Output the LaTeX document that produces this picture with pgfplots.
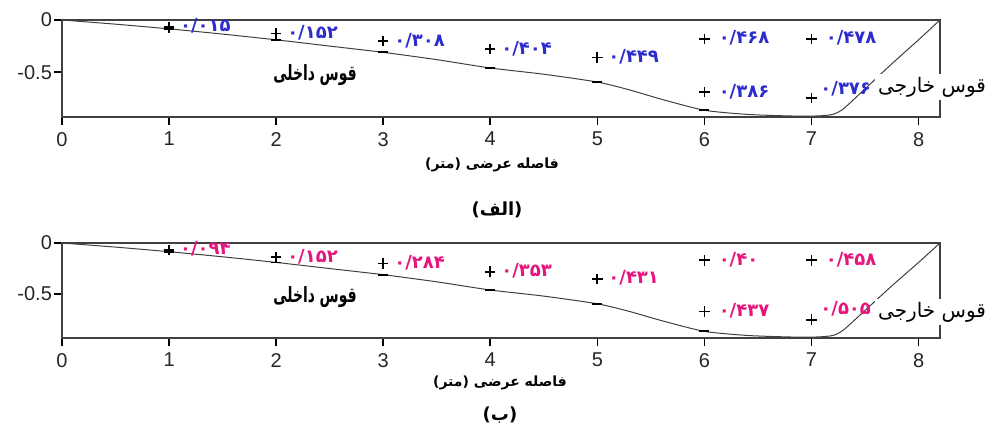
\documentclass[border=0pt]{standalone}
\usepackage{pgfplots}
\pgfplotsset{compat=1.18}
\usepackage{pgfplotstable}
\usepackage{fontspec}
\setmainfont{Liberation Sans}
\newfontfamily\arabicfont[Script=Arabic]{DejaVu Sans}
\TeXXeTstate=1
\definecolor{numblue}{RGB}{45,45,205}
\definecolor{numpink}{RGB}{230,20,125}

\pgfplotstableread{
x y
0 0
0.5 -0.04
1 -0.085
1.5 -0.135
2 -0.19
2.5 -0.25
3 -0.31
3.5 -0.38
4 -0.46
4.5 -0.52
5 -0.595
5.3 -0.67
5.6 -0.76
6 -0.865
6.4 -0.905
6.8 -0.92
7.05 -0.92
7.2 -0.905
7.3 -0.85
7.5 -0.66
7.75 -0.42
8.0 -0.19
8.2 0
}\curve

\pgfplotstableread{
x y
1 -0.085
2 -0.19
3 -0.31
4 -0.46
5 -0.595
6 -0.865
}\dashes

\pgfplotstableread{
x y
1 -0.07
2 -0.13
3 -0.20
4 -0.28
5 -0.36
6 -0.18
6 -0.69
7 -0.18
7 -0.75
}\marksA

\pgfplotstableread{
x y
1 -0.07
2 -0.14
3 -0.20
4 -0.28
5 -0.35
6 -0.17
6 -0.67
7 -0.17
7 -0.75
}\marksB

\pgfplotsset{panel/.style={
  scale only axis, width=439pt,
  xmin=0, xmax=8.2, ymin=-0.93, ymax=0,
  xtick={0,1,2,3,4,5,6,7,8}, xticklabels={0,1,2,3,4,5,6,7,8},
  ytick={-0.5,0}, yticklabels={-0.5,0},
  tick align=outside, xtick pos=bottom, ytick pos=left,
  major tick length=4pt,
  axis line style={black!75, line width=0.8pt},
  tick style={black, line width=0.8pt},
  ticklabel style={font=\fontsize{10}{11}\selectfont, text=black!85},
  xticklabel style={yshift=0pt},
  yticklabel style={xshift=2.5pt},
  clip=false,
}}
\tikzset{
  lab/.style={anchor=west, inner sep=0pt, font=\arabicfont\bfseries\fontsize{9}{10}\selectfont},
  inner/.style={xscale=0.66, transform shape, font=\arabicfont\bfseries\fontsize{10.5}{11}\selectfont},
}

\begin{document}
\begin{tikzpicture}
\useasboundingbox (0,0) rectangle (493pt,-217.5pt);

% ---- top panel (a)
\begin{axis}[panel, height=48.5pt, at={(31pt,-58.5pt)}, anchor=south west]
\addplot[black!75, line width=0.5pt, smooth, tension=0.4] table[x=x,y=y]{\curve};
\addplot[only marks, mark=-, mark size=2.5pt, black, line width=0.9pt] table[x=x,y=y]{\dashes};
\addplot[only marks, mark=+, mark size=2.6pt, black, line width=0.9pt] table[x=x,y=y]{\marksA};
\node[lab, text=numblue] at (axis cs:1.1,-0.06) {۰/۰۱۵};
\node[lab, text=numblue] at (axis cs:2.1,-0.125) {۰/۱۵۲};
\node[lab, text=numblue] at (axis cs:3.1,-0.195) {۰/۳۰۸};
\node[lab, text=numblue] at (axis cs:4.1,-0.275) {۰/۴۰۴};
\node[lab, text=numblue] at (axis cs:5.1,-0.355) {۰/۴۴۹};
\node[lab, text=numblue] at (axis cs:6.13,-0.175) {۰/۴۶۸};
\node[lab, text=numblue] at (axis cs:7.13,-0.175) {۰/۴۷۸};
\node[lab, text=numblue] at (axis cs:6.13,-0.685) {۰/۳۸۶};
\node[lab, text=numblue] at (axis cs:7.08,-0.66) {۰/۳۷۶};
\end{axis}

% ---- bottom panel (b)
\begin{axis}[panel, height=47.5pt, at={(31pt,-169pt)}, anchor=south west]
\addplot[black!75, line width=0.5pt, smooth, tension=0.4] table[x=x,y=y]{\curve};
\addplot[only marks, mark=-, mark size=2.5pt, black, line width=0.9pt] table[x=x,y=y]{\dashes};
\addplot[only marks, mark=+, mark size=2.6pt, black, line width=0.9pt] table[x=x,y=y]{\marksB};
\node[lab, text=numpink] at (axis cs:1.1,-0.06) {۰/۰۹۴};
\node[lab, text=numpink] at (axis cs:2.1,-0.13) {۰/۱۵۲};
\node[lab, text=numpink] at (axis cs:3.1,-0.19) {۰/۲۸۴};
\node[lab, text=numpink] at (axis cs:4.1,-0.275) {۰/۳۵۳};
\node[lab, text=numpink] at (axis cs:5.1,-0.345) {۰/۴۳۱};
\node[lab, text=numpink] at (axis cs:6.13,-0.165) {۰/۴۰};
\node[lab, text=numpink] at (axis cs:7.13,-0.165) {۰/۴۵۸};
\node[lab, text=numpink] at (axis cs:6.13,-0.665) {۰/۴۳۷};
\node[lab, text=numpink] at (axis cs:7.08,-0.64) {۰/۵۰۵};
\end{axis}

% ---- text labels
\node[inner] at (157.5pt,-37.5pt) {\beginR قوس داخلی\endR};
\node[inner] at (157.5pt,-148.5pt) {\beginR قوس داخلی\endR};
\node[fill=white, inner sep=1.5pt, font=\arabicfont\fontsize{10}{11}\selectfont] at (466pt,-43.5pt) {\beginR قوس خارجی\endR};
\node[fill=white, inner sep=1.5pt, font=\arabicfont\fontsize{10}{11}\selectfont] at (466pt,-156pt) {\beginR قوس خارجی\endR};
\node[font=\arabicfont\bfseries\fontsize{7}{8}\selectfont] at (246pt,-82.5pt) {\beginR فاصله عرضی (متر)\endR};
\node[font=\arabicfont\bfseries\fontsize{7}{8}\selectfont] at (250pt,-191.5pt) {\beginR فاصله عرضی (متر)\endR};
\node[font=\arabicfont\bfseries\fontsize{9}{10}\selectfont] at (248.5pt,-105pt) {\beginR(الف)\endR};
\node[font=\arabicfont\bfseries\fontsize{9}{10}\selectfont] at (250pt,-207.5pt) {\beginR(ب)\endR};
\end{tikzpicture}
\end{document}
